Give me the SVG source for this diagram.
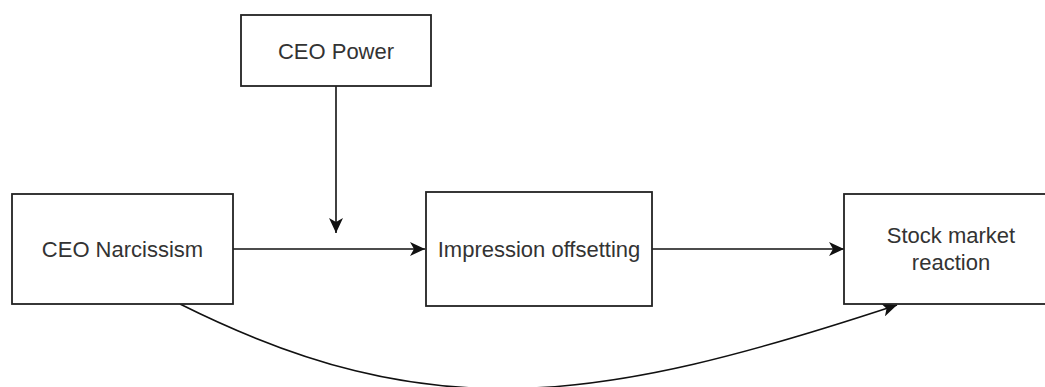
<svg xmlns="http://www.w3.org/2000/svg" width="1045" height="387" viewBox="0 0 1045 387">
<style>
.box{fill:#fff;stroke:#222;stroke-width:1.8}
.lbl{font-family:"Liberation Sans",Arial,sans-serif;font-size:22px;fill:#333;text-anchor:middle}
.edge{fill:none;stroke:#111;stroke-width:1.6}
</style>
<defs>
<marker id="arr" viewBox="0 0 15 14" refX="15" refY="7" markerWidth="15" markerHeight="14" markerUnits="userSpaceOnUse" orient="auto">
<path d="M0,0 L15,7 L0,14 L4,7 z" fill="#111"/>
</marker>
</defs>
<rect width="1045" height="387" fill="#fff"/>
<g id="connectors">
<path class="edge" d="M336,86 V233" marker-end="url(#arr)"/>
<path class="edge" d="M233,249 H425" marker-end="url(#arr)"/>
<path class="edge" d="M652,249 H844" marker-end="url(#arr)"/>
<path class="edge" d="M180,304 C430,429 597,404 897,305" marker-end="url(#arr)"/>
</g>
<g id="ceo-power">
<rect class="box" x="241" y="15" width="190" height="71"/>
<text class="lbl" x="336" y="59">CEO Power</text>
</g>
<g id="ceo-narcissism">
<rect class="box" x="12" y="194" width="221" height="110"/>
<text class="lbl" x="122.5" y="257">CEO Narcissism</text>
</g>
<g id="impression-offsetting">
<rect class="box" x="426" y="192" width="226" height="114"/>
<text class="lbl" x="539" y="257">Impression offsetting</text>
</g>
<g id="stock-market-reaction">
<rect class="box" x="844" y="194" width="214" height="110"/>
<text class="lbl" x="951" y="243">Stock market</text>
<text class="lbl" x="951" y="270">reaction</text>
</g>
</svg>
